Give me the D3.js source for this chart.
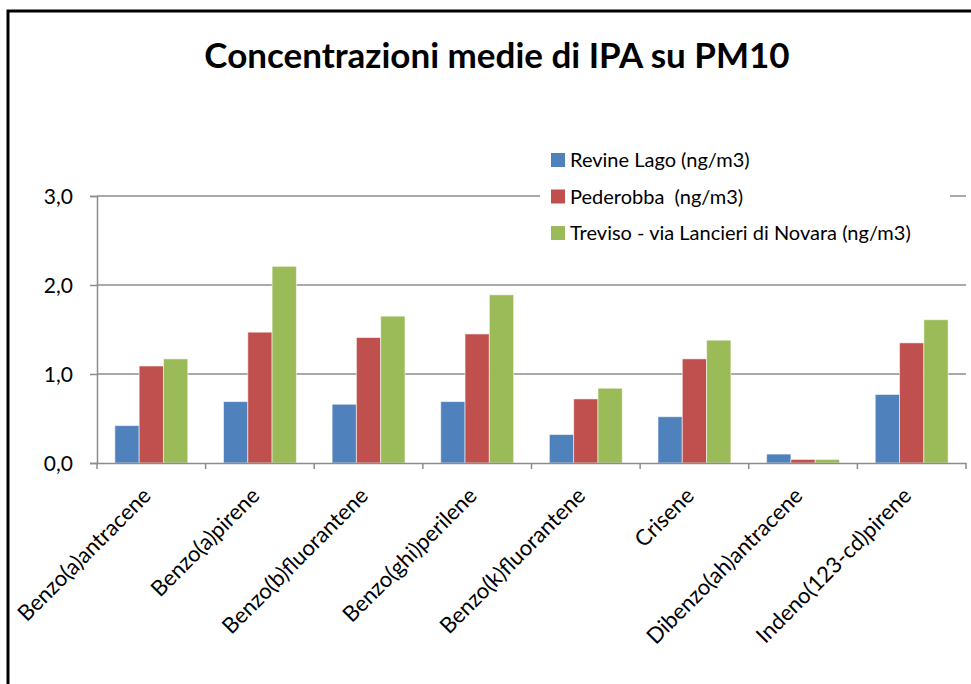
<!DOCTYPE html>
<html>
<head>
<meta charset="utf-8">
<script src="https://cdn.jsdelivr.net/npm/d3@7/dist/d3.min.js"></script>
<style>
  html, body { margin: 0; padding: 0; background: #fff; }
  svg { display: block; }
  text { font-family: Lato, "Open Sans", sans-serif; fill: #000; }
</style>
</head>
<body>
<svg id="chart" width="971" height="684"></svg>
<script>
const title = "Concentrazioni medie di IPA su PM10";
const categories = [
  "Benzo(a)antracene",
  "Benzo(a)pirene",
  "Benzo(b)fluorantene",
  "Benzo(ghi)perilene",
  "Benzo(k)fluorantene",
  "Crisene",
  "Dibenzo(ah)antracene",
  "Indeno(123-cd)pirene"
];
const seriesNames = [
  "Revine Lago (ng/m3)",
  "Pederobba  (ng/m3)",
  "Treviso - via Lancieri di Novara (ng/m3)"
];
const revineLago = [0.42, 0.69, 0.66, 0.69, 0.32, 0.52, 0.10, 0.77];
const pederobba  = [1.09, 1.47, 1.41, 1.45, 0.72, 1.17, 0.04, 1.35];
const treviso    = [1.17, 2.21, 1.65, 1.89, 0.84, 1.38, 0.04, 1.61];
const yTicks = [0, 1, 2, 3];
const colors = ["#4f81bd", "#c0504d", "#9bbb59"];

const seriesValues = [revineLago, pederobba, treviso];

const svg = d3.select("#chart");
const W = 971, H = 684;
const plot = { left: 97, right: 966, top: 196, bottom: 463 };

// outer frame (extends beyond the bottom/right edges as in reference)
svg.append("rect")
  .attr("x", 8).attr("y", 11)
  .attr("width", W + 20).attr("height", H + 20)
  .attr("fill", "#fff").attr("stroke", "#000").attr("stroke-width", 3);

// title
svg.append("text")
  .attr("x", 497).attr("y", 68)
  .attr("text-anchor", "middle")
  .style("font-weight", "bold")
  .style("font-size", "35px")
  .text(title);

const x0 = d3.scaleBand().domain(categories).range([plot.left, plot.right]).paddingInner(0).paddingOuter(0);
const x1 = d3.scaleBand().domain(d3.range(seriesNames.length))
  .range([0, x0.bandwidth()]).paddingOuter(0.735).paddingInner(0);
const y = d3.scaleLinear().domain([0, 3]).range([plot.bottom, plot.top]);

// gridlines
svg.append("g")
  .selectAll("line").data(yTicks.filter(d => d > 0)).join("line")
  .attr("x1", plot.left).attr("x2", plot.right)
  .attr("y1", d => y(d)).attr("y2", d => y(d))
  .attr("stroke", "#8c8c8c").attr("stroke-width", 1.5);

// y axis
const yAxis = d3.axisLeft(y).tickValues(yTicks).tickSize(7).tickPadding(17)
  .tickFormat(d => d3.format(".1f")(d).replace(".", ","));
const gy = svg.append("g").attr("transform", `translate(${plot.left},0)`).call(yAxis);
gy.select(".domain").attr("stroke", "#8c8c8c").attr("stroke-width", 1.5);
gy.selectAll(".tick line").attr("stroke", "#8c8c8c").attr("stroke-width", 1.5);
gy.selectAll(".tick text").style("font-size", "21px").attr("fill", "#000").attr("dy", "0.36em");

// bars
const groups = svg.append("g").selectAll("g").data(categories).join("g")
  .attr("transform", d => `translate(${x0(d)},0)`);
groups.selectAll("rect")
  .data((c, i) => seriesValues.map((vals, s) => ({ s, v: vals[i] })))
  .join("rect")
  .attr("x", d => x1(d.s))
  .attr("width", x1.bandwidth())
  .attr("y", d => y(d.v))
  .attr("height", d => y(0) - y(d.v))
  .attr("fill", d => colors[d.s])
  .attr("stroke", "rgba(255,255,255,0.55)")
  .attr("stroke-width", 1);

// x axis
const xAxis = d3.axisBottom(x0).tickSize(0).tickFormat("");
const gx = svg.append("g").attr("transform", `translate(0,${plot.bottom})`).call(xAxis);
gx.select(".domain").attr("stroke", "#8c8c8c").attr("stroke-width", 1.5);
const bounds = categories.map(c => x0(c)).concat([x0(categories[categories.length - 1]) + x0.bandwidth()]);
gx.selectAll("line.bt").data(bounds).join("line").attr("class", "bt")
  .attr("x1", d => d).attr("x2", d => d).attr("y1", 0).attr("y2", 6)
  .attr("stroke", "#8c8c8c").attr("stroke-width", 1.5);
// category labels
svg.append("g").selectAll("text").data(categories).join("text")
  .attr("transform", d => `translate(${x0(d) + x0.bandwidth() / 2 + 1},${plot.bottom + 34}) rotate(-45)`)
  .attr("text-anchor", "end")
  .style("font-size", "22px")
  .text(d => d);

// legend (white background covers gridline)
const lg = svg.append("g");
lg.append("rect").attr("x", 540).attr("y", 140).attr("width", 410).attr("height", 110).attr("fill", "#fff");
const items = lg.selectAll("g").data(seriesNames).join("g")
  .attr("transform", (d, i) => `translate(551,${160 + i * 36.5})`);
items.append("rect").attr("x", 0).attr("y", -7).attr("width", 14).attr("height", 14)
  .attr("fill", (d, i) => colors[i]);
items.append("text").attr("x", 19).attr("y", 0).attr("dy", "0.36em")
  .style("font-size", "20px").attr("xml:space", "preserve").text(d => d);
</script>
</body>
</html>
